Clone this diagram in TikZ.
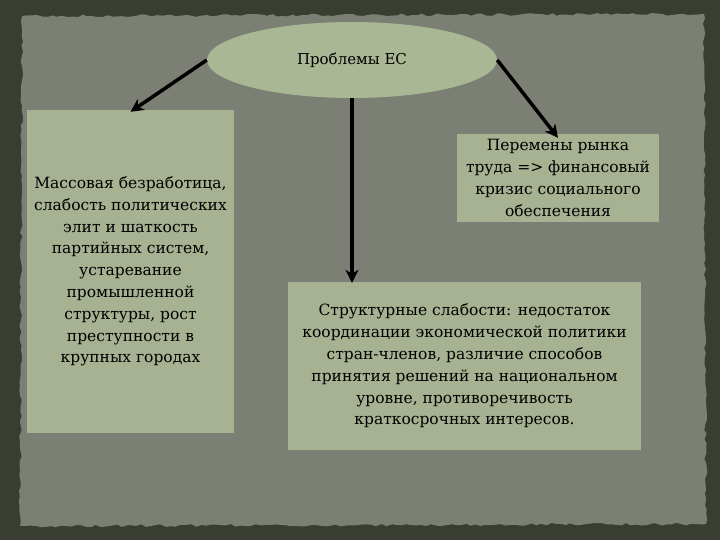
\documentclass[tikz,border=0pt]{standalone}
\usepackage{fontspec}
\setmainfont{DejaVu Serif}
\usetikzlibrary{arrows.meta,decorations.pathmorphing,shapes.geometric}
\definecolor{outerdark}{RGB}{58,62,50}
\definecolor{panelgrey}{RGB}{124,127,116}
\definecolor{boxgreen}{RGB}{166,178,145}
\definecolor{ellgreen}{RGB}{170,183,148}
\tikzset{
  box/.style={draw=none,fill=boxgreen,rectangle,inner sep=0pt,align=center,
    font=\fontsize{15.5}{21.8}\selectfont},
  arr/.style={line width=3.5pt,-{Stealth[length=13pt,width=13pt,inset=4pt]}},
}
\begin{document}
\begin{tikzpicture}[x=1pt,y=-1pt]
\useasboundingbox (0,0) rectangle (720,540);
\fill[outerdark] (0,0) rectangle (720,540);
\fill[panelgrey,decorate,decoration={random steps,segment length=5pt,amplitude=1.4pt}]
  (22,16) -- (704,14) -- (706,524) -- (20,526) -- cycle;
\node[ellipse,fill=ellgreen,minimum width=290pt,minimum height=76pt,inner sep=0pt,
  font=\fontsize{15}{18}\selectfont] (top) at (352,60) {Проблемы ЕС};
\node[box,minimum width=207pt,minimum height=323pt] (left) at (130.5,271.5)
  {Массовая безработица,\\слабость политических\\элит и шаткость\\партийных систем,\\устаревание\\промышленной\\структуры, рост\\преступности в\\крупных городах};
\node[box,minimum width=202pt,minimum height=88pt] (right) at (558,178)
  {Перемены рынка\\труда => финансовый\\кризис социального\\обеспечения};
\node[box,minimum width=353pt,minimum height=168pt] (bottom) at (464.5,366)
  {Структурные слабости: недостаток\\координации экономической политики\\стран-членов, различие способов\\принятия решений на национальном\\уровне, противоречивость\\краткосрочных интересов.};
\draw[arr] (top.west) -- ([yshift=-2pt]left.north);
\draw[arr] (top.east) -- ([yshift=-4pt]right.north);
\draw[arr] (top.south) -- ([yshift=-1pt]top.south |- bottom.north);
\end{tikzpicture}
\end{document}
